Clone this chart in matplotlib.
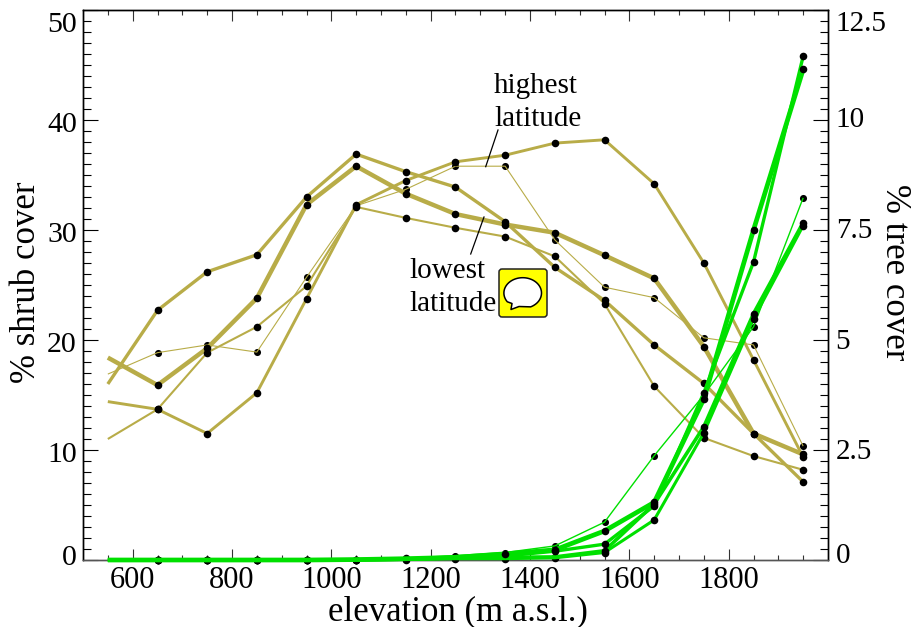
import numpy as np
import matplotlib
matplotlib.use("Agg")
import matplotlib.pyplot as plt
from matplotlib.patches import FancyBboxPatch, Polygon
from matplotlib.lines import Line2D
from matplotlib.transforms import Affine2D

plt.rcParams['font.family'] = ['Liberation Serif', 'DejaVu Serif']

elevation = [550, 650, 750, 850, 950, 1050, 1150, 1250, 1350, 1450, 1550, 1650, 1750, 1850, 1950]

shrub_a = [16.0, 22.7, 26.2, 27.75, 33.0, 36.9, 35.3, 33.9, 30.75, 26.6, 23.6, 19.55, 16.05, 11.5, 7.1]
shrub_b = [18.4, 15.9, 19.25, 23.8, 32.3, 35.8, 33.3, 31.45, 30.5, 29.75, 27.7, 25.6, 19.4, 11.5, 9.6]
shrub_c = [14.4, 13.7, 11.5, 15.2, 23.75, 32.3, 34.5, 36.2, 36.8, 37.9, 38.2, 34.2, 27.0, 18.2, 9.35]
shrub_d = [11.0, 13.7, 18.85, 21.2, 24.9, 32.1, 31.1, 30.2, 29.4, 27.6, 23.3, 15.8, 11.1, 9.45, 8.2]
shrub_e = [16.9, 18.85, 19.55, 18.9, 25.7, 32.2, 33.7, 35.8, 35.8, 29.1, 24.8, 23.85, 20.2, 19.55, 10.35]

tree_a = [0, 0, 0, 0, 0, 0.01, 0.03, 0.06, 0.14, 0.23, 0.66, 1.31, 3.66, 7.5, 11.15]
tree_b = [0, 0, 0, 0, 0, 0.01, 0.02, 0.05, 0.09, 0.20, 0.36, 1.23, 3.80, 6.77, 11.45]
tree_c = [0, 0, 0, 0, 0, 0.00, 0.02, 0.06, 0.06, 0.07, 0.21, 1.27, 3.03, 5.60, 7.67]
tree_d = [0, 0, 0, 0, 0, 0.00, 0.01, 0.03, 0.03, 0.05, 0.17, 0.91, 2.89, 5.48, 7.60]
tree_e = [0, 0, 0, 0, 0, 0.01, 0.04, 0.10, 0.17, 0.32, 0.86, 2.37, 3.75, 5.30, 8.23]

x_ticks = [600, 800, 1000, 1200, 1400, 1600, 1800]
left_ticks = [0, 10, 20, 30, 40, 50]
right_ticks = [0, 2.5, 5, 7.5, 10, 12.5]
right_labels = ['0', '2.5', '5', '7.5', '10', '12.5']

TAN = '#B8AC48'
GREEN = '#00E000'
W, H = 914, 627

fig = plt.figure(figsize=(W / 100, H / 100), dpi=100)
ax = fig.add_axes([83 / W, (H - 560) / H, (828 - 83) / W, (560 - 10) / H])
ax2 = ax.twinx()
ax.set_xlim(500, 2000)
ax.set_ylim(0, 50)
ax2.set_ylim(0, 12.5)
ax.set_zorder(1)
ax2.set_zorder(2)
ax2.patch.set_visible(False)

xs = np.array(elevation)


def draw(axis, values, lw, color, thin):
    v = np.array(values)
    axis.plot(xs, v, color=color, lw=lw, zorder=4, solid_capstyle='butt',
              solid_joinstyle='round', clip_on=False)
    mz = 3 if thin else 5
    low = v[1:] < (0.1 if axis is ax2 else -1)
    axis.scatter(xs[1:][~low], v[1:][~low], s=30 if not thin else 26, color='black',
                 linewidths=0, zorder=mz, clip_on=False)
    if low.any():
        axis.scatter(xs[1:][low], v[1:][low], s=30, color='black',
                     linewidths=0, zorder=3, clip_on=False)


draw(ax, shrub_e, 0.8, TAN, True)
draw(ax, shrub_d, 1.5, TAN, False)
draw(ax, shrub_c, 2.1, TAN, False)
draw(ax, shrub_a, 2.4, TAN, False)
draw(ax, shrub_b, 3.2, TAN, False)

draw(ax2, tree_e, 1.0, GREEN, True)
draw(ax2, tree_d, 2.2, GREEN, False)
draw(ax2, tree_c, 2.6, GREEN, False)
draw(ax2, tree_b, 2.4, GREEN, False)
draw(ax2, tree_a, 3.4, GREEN, False)

# ticks
ax.set_xticks(x_ticks)
ax.set_xticks(np.arange(550, 2000, 50), minor=True)
ax.set_yticks(left_ticks)
ax.set_yticks(np.arange(0, 51, 1), minor=True)
ax2.set_yticks(right_ticks)
ax2.set_yticklabels(right_labels)
ax2.set_yticks(np.arange(0, 12.6, 0.25), minor=True)

ax.tick_params(axis='x', which='major', direction='in', top=True, length=8, width=0.8,
               color='#333333', labelsize=22, pad=4)
ax.tick_params(axis='x', which='minor', direction='in', top=True, length=3.6, width=0.8,
               color='#333333')
ax.tick_params(axis='y', which='major', direction='in', length=10.8, width=0.8,
               labelsize=21.5, pad=4.5)
ax.tick_params(axis='y', which='minor', direction='in', length=5.8, width=0.8)
ax2.tick_params(axis='y', which='major', direction='in', length=10.8, width=0.8,
                labelsize=21, pad=5.5)
ax2.tick_params(axis='y', which='minor', direction='in', length=5.8, width=0.8)

for a in (ax, ax2):
    for name, s in a.spines.items():
        s.set_linewidth(1.0)
        s.set_zorder(2)
    a.spines['bottom'].set_color('#555555')

fig.canvas.draw()
for t, dy in zip(ax.yaxis.get_major_ticks(), [5, -2, -2, -2, -2, -12]):
    t.label1.set_transform(t.label1.get_transform() + Affine2D().translate(0, dy))
for t, dy in zip(ax2.yaxis.get_major_ticks(), [7, 1, 1, 2, 3, -11]):
    t.label2.set_transform(t.label2.get_transform() + Affine2D().translate(0, dy))

# image-pixel coordinates for annotations
px = Affine2D().scale(1, -1).translate(0, H)


def ptext(x, y, s, size=21, **kw):
    fig.text(x, y, s, transform=px, fontsize=size, color='black', zorder=20, **kw)


ptext(458, 611.5, 'elevation (m a.s.l.)', size=25, ha='center', va='center')
ptext(27, 282, '% shrub cover', size=25, ha='center', va='center', rotation=90)
ptext(895, 272, '% tree cover', size=25, ha='center', va='center', rotation=-90)

ptext(494, 92.7, 'highest', va='baseline')
ptext(494, 126, 'latitude', va='baseline')
ptext(409, 278, 'lowest', va='baseline')
ptext(409, 310.7, 'latitude', va='baseline')

for p, q in (((498, 130), (485.7, 166.7)), ((484, 217), (470.7, 254))):
    fig.add_artist(Line2D([p[0], q[0]], [p[1], q[1]], transform=px, color='black', lw=0.9, zorder=20))

# speech-bubble note icon
fig.add_artist(FancyBboxPatch((501, 271), 44, 44, boxstyle='round,pad=2,rounding_size=3',
                              transform=px, facecolor='#FFFF00', edgecolor='#222222',
                              lw=1.1, zorder=20))
th = np.radians(np.linspace(145, 425, 70))
bx = 522.7 + 18.8 * np.cos(th)
by = 293 + 15.3 * np.sin(th)
# angles run in image coordinates (y down); the tail closes the outline at lower left
tail = np.array([[519, 306.5], [511, 309.5], [512, 303.5]])
pts = np.vstack([np.column_stack([bx, by]), tail])
fig.add_artist(Polygon(pts, closed=True, transform=px, facecolor='white', edgecolor='black',
                       lw=1.1, zorder=21, joinstyle='round'))

fig.savefig('out.png', dpi=100)
